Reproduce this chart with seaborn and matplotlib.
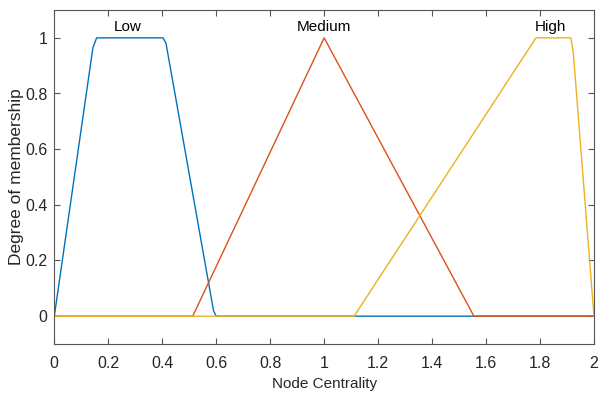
import pandas as pd
import seaborn as sns
import matplotlib.pyplot as plt

# membership function breakpoints
low_x = [0, 0.143, 0.157, 0.403, 0.414, 0.59, 0.60, 2.0]
low_y = [0, 0.964, 1.0, 1.0, 0.98, 0.02, 0, 0]
med_x = [0, 0.513, 1.0, 1.555, 2.0]
med_y = [0, 0, 1.0, 0, 0]
high_x = [0, 1.111, 1.785, 1.914, 1.923, 2.0]
high_y = [0, 0, 1.0, 1.0, 0.95, 0]

mf_names = ["Low", "Medium", "High"]
label_x = [0.273, 1.0, 1.837]
colors = ["#0072BD", "#D95319", "#EDB120"]

frames = []
for name, xs, ys in [("Low", low_x, low_y), ("Medium", med_x, med_y), ("High", high_x, high_y)]:
    frames.append(pd.DataFrame({"x": xs, "y": ys, "mf": name}))
df = pd.concat(frames, ignore_index=True)

sns.set_style("white")
plt.rcParams['font.family'] = ['Liberation Sans', 'DejaVu Sans']

fig = plt.figure(figsize=(5.98, 4.0), dpi=100)
ax = fig.add_axes([0.0908, 0.14, 0.9025, 0.835])

for name, c in zip(mf_names, colors):
    sub = df[df["mf"] == name]
    sns.lineplot(data=sub, x="x", y="y", color=c, linewidth=1.0, ax=ax,
                 sort=False, estimator=None)

for name, lx in zip(mf_names, label_x):
    ax.text(lx, 1.015, name, ha="center", va="bottom", fontsize=11, color="#000000")

ax.set_xlim(0, 2)
ax.set_ylim(-0.1, 1.1)
ax.set_xticks([0, 0.2, 0.4, 0.6, 0.8, 1, 1.2, 1.4, 1.6, 1.8, 2])
ax.set_xticklabels(["0", "0.2", "0.4", "0.6", "0.8", "1", "1.2", "1.4", "1.6", "1.8", "2"])
ax.set_yticks([0, 0.2, 0.4, 0.6, 0.8, 1])
ax.set_yticklabels(["0", "0.2", "0.4", "0.6", "0.8", "1"])
ax.tick_params(direction="in", length=4, width=0.8, color="#555555",
               labelsize=11.5, labelcolor="#262626", top=True, right=True,
               bottom=True, left=True)
ax.tick_params(axis="x", pad=9)
ax.tick_params(axis="y", pad=5)
for s in ax.spines.values():
    s.set_color("#555555")
    s.set_linewidth(0.8)

ax.set_xlabel("Node Centrality", fontsize=11, color="#262626", labelpad=4)
ax.set_ylabel("Degree of membership", fontsize=12.5, color="#262626", labelpad=1)
ax.legend_ = None

fig.savefig("out.png", dpi=100)
